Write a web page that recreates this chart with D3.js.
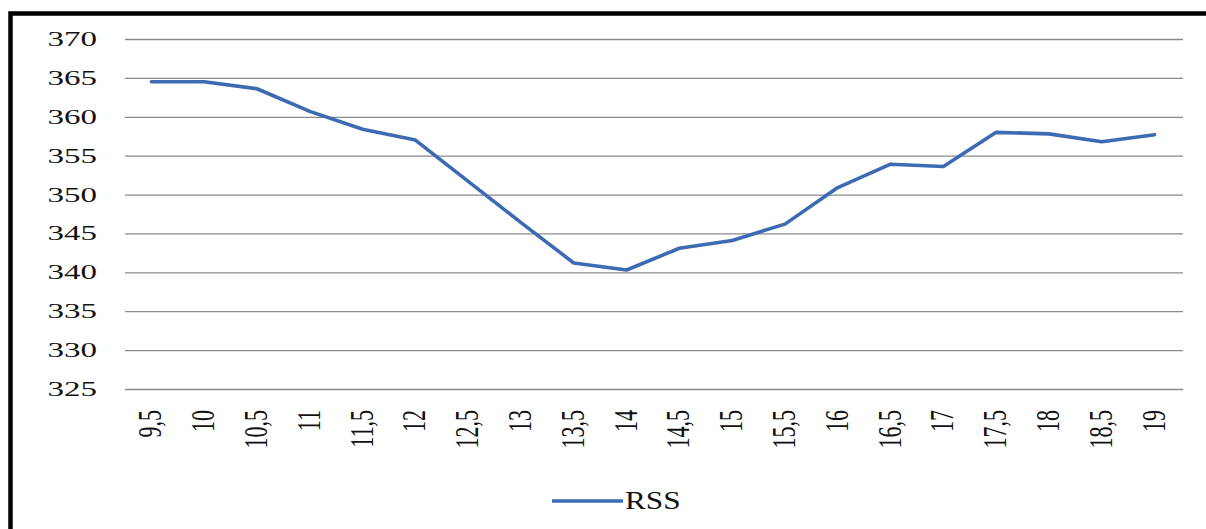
<!DOCTYPE html>
<html>
<head>
<meta charset="utf-8">
<script src="https://cdn.jsdelivr.net/npm/d3@7"></script>
<style>
  html, body { margin: 0; padding: 0; background: #fff; }
  svg { display: block; }
  text { font-family: "Liberation Serif", "Times New Roman", serif; fill: #111; }
</style>
</head>
<body>
<svg id="chart" width="1206" height="529"></svg>
<script>
// RSS against step value
const categories = ["9,5","10","10,5","11","11,5","12","12,5","13","13,5","14",
                    "14,5","15","15,5","16","16,5","17","17,5","18","18,5","19"];
const rssValues = [364.5, 364.5, 363.6, 360.7, 358.4, 357.0, 351.7, 346.4, 341.2, 340.3,
                   343.1, 344.1, 346.2, 350.9, 353.9, 353.6, 358.0, 357.8, 356.8, 357.7];
const yTicks = [325, 330, 335, 340, 345, 350, 355, 360, 365, 370];
const seriesName = "RSS";

const svg = d3.select("#chart");
const margin = { left: 125, right: 1181, top: 39, bottom: 389 };
const stretch = 1.5;   // wide letterforms

const x = d3.scaleBand().domain(categories).range([margin.left, margin.right]);
const y = d3.scaleLinear().domain([325, 370]).range([margin.bottom, margin.top]);

// frame
svg.append("path")
  .attr("d", `M10.5,529 V13.5 H1206`)
  .attr("fill", "none").attr("stroke", "#000").attr("stroke-width", 4.5);

// horizontal gridlines
const yAxis = d3.axisLeft(y).tickValues(yTicks).tickSize(-(margin.right - margin.left + 2)).tickFormat("");
const gy = svg.append("g").attr("transform", `translate(${margin.left},0)`).call(yAxis);
gy.select(".domain").remove();
gy.selectAll(".tick line").attr("stroke", "#8a8a8a").attr("stroke-width", 1.3);

// y tick labels
svg.append("g").selectAll("text").data(yTicks).join("text")
  .attr("transform", d => `translate(97,${y(d) + 7}) scale(${stretch},1)`)
  .attr("text-anchor", "end")
  .attr("font-size", 22)
  .text(d => d);

// x tick labels, rotated
const xAxis = d3.axisBottom(x).tickSize(0).tickFormat("");
svg.append("g").attr("transform", `translate(0,${margin.bottom})`).call(xAxis)
  .select(".domain").remove();
svg.append("g").selectAll("text").data(categories).join("text")
  .attr("transform", d => `translate(${x(d) + x.bandwidth() / 2 + 10},410) scale(${stretch},1) rotate(-90)`)
  .attr("text-anchor", "end")
  .attr("font-size", 22)
  .text(d => d);

// series line
const line = d3.line()
  .x((d, i) => x(categories[i]) + x.bandwidth() / 2)
  .y(d => y(d));
svg.append("path")
  .datum(rssValues)
  .attr("d", line)
  .attr("fill", "none")
  .attr("stroke", "#3d6bb3")
  .attr("stroke-width", 3.6)
  .attr("stroke-linejoin", "round")
  .attr("stroke-linecap", "round");

// legend
const lg = svg.append("g");
lg.append("line")
  .attr("x1", 552).attr("x2", 623).attr("y1", 501).attr("y2", 501)
  .attr("stroke", "#3d6bb3").attr("stroke-width", 3.6);
lg.append("text")
  .attr("transform", `translate(625,509) scale(1.25,1)`)
  .attr("font-size", 25)
  .text(seriesName);
</script>
</body>
</html>
